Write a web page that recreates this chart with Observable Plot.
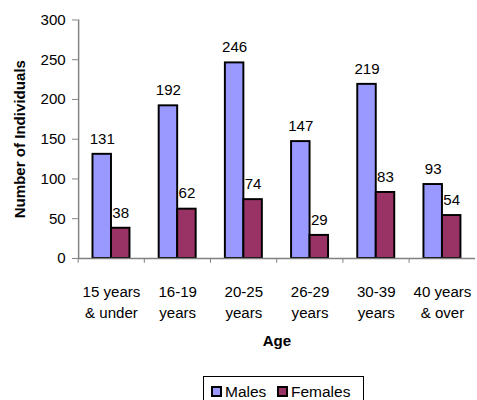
<!DOCTYPE html>
<html>
<head>
<meta charset="utf-8">
<script src="https://cdn.jsdelivr.net/npm/d3@7"></script>
<script src="https://cdn.jsdelivr.net/npm/@observablehq/plot@0.6"></script>
<style>
  html, body { margin: 0; padding: 0; overflow: hidden; background: #fff; }
  #wrap { position: relative; width: 477px; height: 400px; overflow: hidden; font-family: "Liberation Sans", Arial, sans-serif; }
  #legend { position: absolute; left: 203px; top: 376px; width: 161px; height: 32px; border: 1px solid #000; box-sizing: border-box; background: #fff; font-size: 15.5px; color: #000; }
  .item { position: absolute; top: 8px; display: flex; align-items: center; line-height: 13px; }
  .sw { width: 7px; height: 7px; border: 2px solid #000; margin-right: 3px; }
</style>
</head>
<body>
<div id="wrap">
  <div id="chart"></div>
  <div id="legend"></div>
</div>
<script>
const categories = ["15 years\n& under", "16-19\nyears", "20-25\nyears", "26-29\nyears", "30-39\nyears", "40 years\n& over"];
const series = ["Males", "Females"];
const males = [131, 192, 246, 147, 219, 93];
const females = [38, 62, 74, 29, 83, 54];
const colors = ["#9999FF", "#993366"];
const yTicks = [0, 50, 100, 150, 200, 250, 300];
const xTitle = "Age";
const yTitle = "Number of Individuals";

const data = [];
categories.forEach((c, i) => {
  data.push({age: c, sex: "Males", value: males[i]});
  data.push({age: c, sex: "Females", value: females[i]});
});

const W = 490, ML = 78, MR = 1;
const PAD_OUT = 0.7125;
const facetStep = (W - ML - MR) / categories.length;
const halfStep = facetStep / 2;
const barStep = facetStep / (series.length + 2 * PAD_OUT);
const edgeOffset = PAD_OUT * barStep + barStep / 2; // from first band centre to facet edge
const gray = "#808080";
const FS = 15.5;

const chart = Plot.plot({
  width: W,
  height: 370,
  marginLeft: ML,
  marginRight: MR,
  marginTop: 20,
  marginBottom: 105,
  style: {fontFamily: "'Liberation Sans', Arial, sans-serif", fontSize: FS + "px", color: "#000", background: "transparent"},
  fx: {domain: categories, padding: 0},
  x: {domain: series, paddingInner: 0, paddingOuter: PAD_OUT, axis: null},
  y: {domain: [0, 300]},
  color: {domain: series, range: colors},
  marks: [
    Plot.axisY({ticks: yTicks, tickSize: 6, tickPadding: 7, stroke: gray, fill: "black", label: null, fontSize: FS}),
    Plot.ruleX([data[0]], {fx: "age", x: "sex", y1: () => yTicks[0], y2: () => yTicks[yTicks.length - 1], dx: -edgeOffset, stroke: gray, strokeWidth: 1.5}),
    Plot.text([yTitle], {frameAnchor: "left", textAnchor: "middle", lineAnchor: "middle", rotate: -90, dx: -60, fontWeight: "bold", fontSize: FS, fill: "black", facet: "super"}),
    Plot.text(data, {fx: "age", x: "sex", y: "value", text: d => String(d.value), dy: -16, fontSize: FS, fill: "black"}),
    Plot.barY(data, {fx: "age", x: "sex", y: "value", fill: "sex", stroke: "black", strokeWidth: 2}),
    Plot.ruleY([0], {stroke: gray, strokeWidth: 1.5}),
    Plot.axisFx({anchor: "bottom", text: null, tickSize: 5, dx: -halfStep, stroke: gray, label: null}),
    Plot.axisFx({anchor: "bottom", tickSize: 0, tickPadding: 24, lineHeight: 1.42, fontSize: FS, fill: "black", label: null}),
    Plot.text([xTitle], {frameAnchor: "bottom", lineAnchor: "middle", dy: 85, fontWeight: "bold", fontSize: FS, fill: "black", facet: "super"})
  ]
});
document.getElementById("chart").appendChild(chart);

// legend
const legend = document.getElementById("legend");
const lefts = [7, 73];
series.forEach((s, i) => {
  const it = document.createElement("div");
  it.className = "item";
  it.style.left = lefts[i] + "px";
  const sw = document.createElement("span");
  sw.className = "sw";
  sw.style.background = colors[i];
  const t = document.createElement("span");
  t.textContent = s;
  it.appendChild(sw);
  it.appendChild(t);
  legend.appendChild(it);
});
</script>
</body>
</html>
